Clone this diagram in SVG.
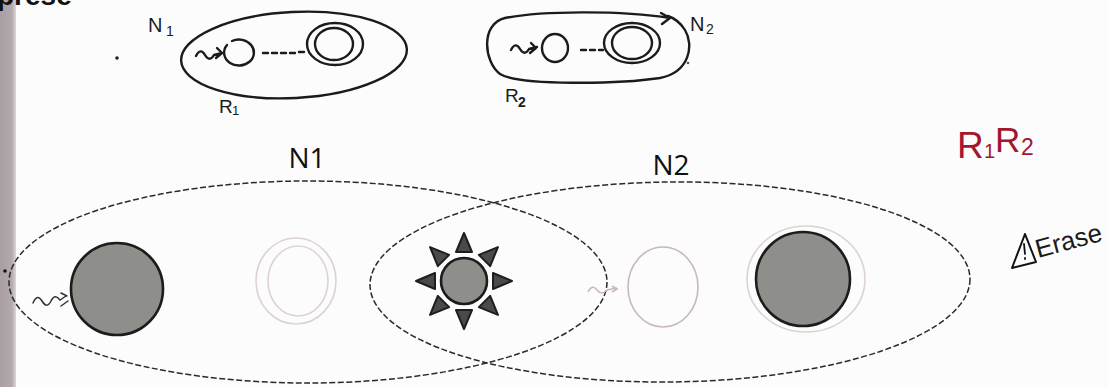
<svg xmlns="http://www.w3.org/2000/svg" xmlns:xlink="http://www.w3.org/1999/xlink" width="1108" height="387" viewBox="0 0 1108 387">
<defs>
<linearGradient id="bar" x1="0" y1="0" x2="1" y2="0">
<stop offset="0" stop-color="#a89ea3"/>
<stop offset="0.75" stop-color="#b3aaae"/>
<stop offset="1" stop-color="#ddd7d9"/>
</linearGradient>
<polygon id="ray" points="0,-48 -8,-29 8,-29"/>
</defs>
<style>
.ink{fill:none;stroke:#1b1b1b;stroke-width:2.4;stroke-linecap:round;stroke-linejoin:round}
.hand{font-family:"Liberation Sans",Arial,sans-serif;fill:#1b1b1b}
.dash{fill:none;stroke:#2a2a2a;stroke-width:1.5;stroke-dasharray:6 2.5}
.faint{fill:none;stroke:#ddd2d3;stroke-width:1.6}
.faint2{fill:none;stroke:#c9b8b9;stroke-width:1.6}
.disk{fill:#8e8e8a;stroke:#1c1c1c;stroke-width:2.6}
.lbl{font-family:"Open Sans","Liberation Sans",sans-serif;font-size:28px;fill:#111;text-anchor:middle}
.red{font-family:"Liberation Sans",Arial,sans-serif;fill:#a3162d}
.ray{fill:#4a4a4a;stroke:#1e1e1e;stroke-width:2;stroke-linejoin:round}
</style>
<rect width="1108" height="387" fill="#fcfcfc"/>
<rect x="0" y="0" width="16" height="387" fill="url(#bar)"/>
<text x="-3" y="5" font-family="Liberation Sans,Arial,sans-serif" font-size="28" font-weight="bold" fill="#111">prese</text>

<!-- top sketch N1 -->
<g id="sketch-n1">
<circle cx="117" cy="58" r="1.8" fill="#222"/>
<ellipse class="ink" cx="294" cy="55" rx="113" ry="43" transform="rotate(-3 294 55)"/>
<text class="hand" x="148" y="32" font-size="20">N</text>
<text class="hand" x="166" y="36" font-size="14">1</text>
<text class="hand" x="219" y="113" font-size="19">R</text>
<text class="hand" x="232" y="115" font-size="13">1</text>
<path class="ink" d="M196,56 c3,-6 6,-6 9,-1 s6,5 9,0 l8,-2 M217,48 l5,5 l-6,5"/>
<path class="ink" d="M232,41 a15,13 0 1 1 -2,22 a15,13 0 0 1 -3,-18"/>
<path class="ink" d="M263,53 l5,0 M272,53 l5,0 M281,53 l5,0 M290,53 l5,0 M299,52 l5,0" stroke-width="2"/>
<ellipse class="ink" cx="335" cy="44" rx="28" ry="21"/>
<ellipse class="ink" cx="334" cy="44" rx="19" ry="16"/>
</g>

<!-- top sketch N2 -->
<g id="sketch-n2">
<path class="ink" d="M670,18 C620,10 540,11 505,18 C480,24 484,62 500,74 C520,86 620,84 660,78 C690,72 694,45 685,30 C680,22 674,18 668,16 M661,13 l9,5 l-8,6"/>
<text class="hand" x="690" y="31" font-size="20">N</text>
<text class="hand" x="706" y="34" font-size="14">2</text>
<text class="hand" x="505" y="102" font-size="19">R</text>
<text class="hand" x="518" y="107" font-size="14" font-weight="bold">2</text>
<path class="ink" d="M511,50 c3,-6 6,-6 9,-1 s6,5 9,0 l8,-2 M531,43 l5,5 l-6,5"/>
<ellipse class="ink" cx="555" cy="48" rx="13" ry="14"/>
<path class="ink" d="M581,50 l5,0 M590,50 l5,0 M599,50 l4,0" stroke-width="2"/>
<ellipse class="ink" cx="632" cy="43" rx="28" ry="20"/>
<ellipse class="ink" cx="632" cy="43" rx="20" ry="16"/>
<circle cx="688" cy="63" r="1.3" fill="#555"/>
</g>

<!-- region labels -->
<g id="label-n1"><text class="lbl" x="307" y="168">N1</text></g>
<g id="label-n2"><text class="lbl" x="671" y="175">N2</text></g>

<!-- dashed regions -->
<g id="connectors">
<ellipse id="region-n1" class="dash" cx="308" cy="282" rx="299" ry="101"/>
<ellipse id="region-n2" class="dash" cx="670" cy="282" rx="300" ry="100" transform="rotate(-0.6 670 282)"/>
<path d="M33,303 c3,-7 6,-7 9,-2 s6,6 9,0 s6,-5 9,-1 l6,-4 M61,293 l6,3 M61,306 l7,-5" fill="none" stroke="#333" stroke-width="1.5" stroke-linecap="round"/>
<path class="faint2" d="M588,292 c3,-6 6,-6 9,-2 s6,4 10,0 l10,-2 M612,286 l5,3 l-5,3"/>
</g>

<circle cx="5" cy="271" r="1.8" fill="#111"/>

<g id="node-start">
<ellipse class="disk" cx="117" cy="289" rx="46" ry="46"/>
</g>
<g id="node-faint1">
<ellipse class="faint" cx="296" cy="281" rx="40" ry="43"/>
<ellipse class="faint" cx="298" cy="281" rx="30" ry="35"/>
</g>
<g id="node-sun">
<g transform="translate(464,281)">
<use xlink:href="#ray" class="ray"/>
<use xlink:href="#ray" class="ray" transform="rotate(45)"/>
<use xlink:href="#ray" class="ray" transform="rotate(90)"/>
<use xlink:href="#ray" class="ray" transform="rotate(135)"/>
<use xlink:href="#ray" class="ray" transform="rotate(180)"/>
<use xlink:href="#ray" class="ray" transform="rotate(225)"/>
<use xlink:href="#ray" class="ray" transform="rotate(270)"/>
<use xlink:href="#ray" class="ray" transform="rotate(315)"/>
</g>
<circle class="disk" cx="464" cy="281" r="23"/>
</g>
<g id="node-faint2">
<ellipse class="faint2" cx="663" cy="287" rx="35" ry="40"/>
</g>
<g id="node-final">
<ellipse class="faint" cx="806" cy="279" rx="59" ry="53"/>
<ellipse class="disk" cx="803" cy="279" rx="47" ry="47"/>
</g>

<g id="label-r1r2">
<text class="red" x="957" y="158" font-size="37">R</text>
<text class="red" x="984" y="158" font-size="20">1</text>
<text class="red" x="995" y="152" font-size="35">R</text>
<text class="red" x="1021" y="155" font-size="23">2</text>
</g>

<g id="erase-note">
<path d="M1012,268 L1025,234 L1036,262 Z" fill="none" stroke="#111" stroke-width="2" stroke-linejoin="round"/>
<path d="M1024,244 l1,10 M1025,258 l0,1" stroke="#111" stroke-width="1.8" stroke-linecap="round"/>
<text class="hand" x="1038" y="258" font-size="26" transform="rotate(-15 1038 258)">Erase</text>
</g>
</svg>
